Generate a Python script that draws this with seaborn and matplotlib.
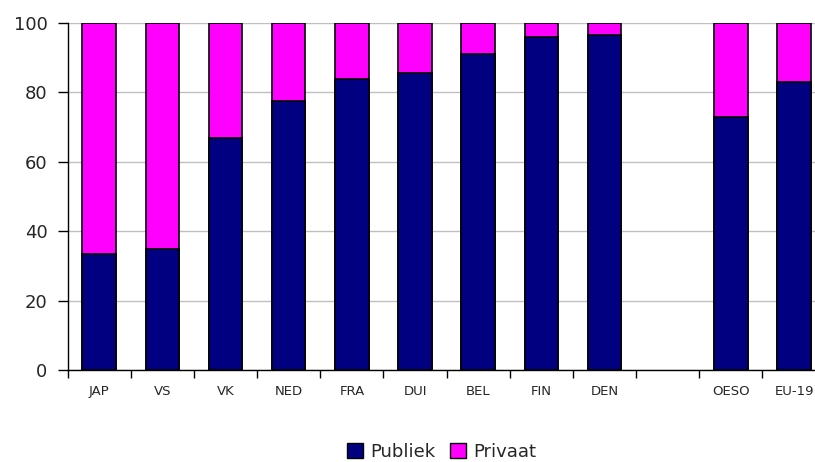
import numpy as np
import pandas as pd
import matplotlib
matplotlib.use("Agg")
import matplotlib.pyplot as plt
from matplotlib.ticker import FixedLocator
from matplotlib.patches import Patch
import seaborn as sns

# Data (percent of total)
landen = ["JAP", "VS", "VK", "NED", "FRA", "DUI", "BEL", "FIN", "DEN", "OESO", "EU-19"]
publiek = [33.5, 35, 67, 77.5, 84, 85.5, 91, 96, 96.7, 73, 83]
totaal = [100] * len(landen)
# empty slot between DEN and OESO
volgorde = ["JAP", "VS", "VK", "NED", "FRA", "DUI", "BEL", "FIN", "DEN", " ", "OESO", "EU-19"]

df = pd.DataFrame({"land": landen, "publiek": publiek, "totaal": totaal})

sns.set_style("white")
fig = plt.figure(figsize=(8.15, 4.62), dpi=100)
ax = fig.add_axes([0.083, 0.199, 0.93, 0.751])

# total bar (privaat shows on top), then publiek over it
sns.barplot(data=df, x="land", y="totaal", order=volgorde, color="#FF00FF",
            width=0.53, edgecolor="black", linewidth=1.2, saturation=1, ax=ax)
sns.barplot(data=df, x="land", y="publiek", order=volgorde, color="#000080",
            width=0.53, edgecolor="black", linewidth=1.2, saturation=1, ax=ax)

ax.set_xlim(-0.5, len(volgorde) - 0.5)
ax.set_ylim(0, 100)
ax.set_yticks([0, 20, 40, 60, 80, 100])
ax.yaxis.grid(True, color="#C0C0C0", linewidth=1)
ax.set_axisbelow(True)
ax.set_xlabel("")
ax.set_ylabel("")

for s in ["top", "right"]:
    ax.spines[s].set_visible(False)
for s in ["left", "bottom"]:
    ax.spines[s].set_color("black")
    ax.spines[s].set_linewidth(1)

ax.tick_params(axis="y", length=7, width=1, color="black", labelsize=13, pad=7.5, left=True)
ax.tick_params(axis="x", which="major", length=0, labelsize=9.5, pad=11)
ax.xaxis.set_minor_locator(FixedLocator(np.arange(-0.5, len(volgorde), 1)))
ax.tick_params(axis="x", which="minor", length=6, width=1, color="black", bottom=True)

handles = [Patch(facecolor="#000080", edgecolor="black", label="Publiek"),
           Patch(facecolor="#FF00FF", edgecolor="black", label="Privaat")]
fig.legend(handles=handles, loc="center", bbox_to_anchor=(0.542, 0.022), ncol=2,
           frameon=False, fontsize=13, handlelength=0.9, handleheight=0.9,
           handletextpad=0.4, columnspacing=0.8)

fig.savefig("out.png", dpi=100)
